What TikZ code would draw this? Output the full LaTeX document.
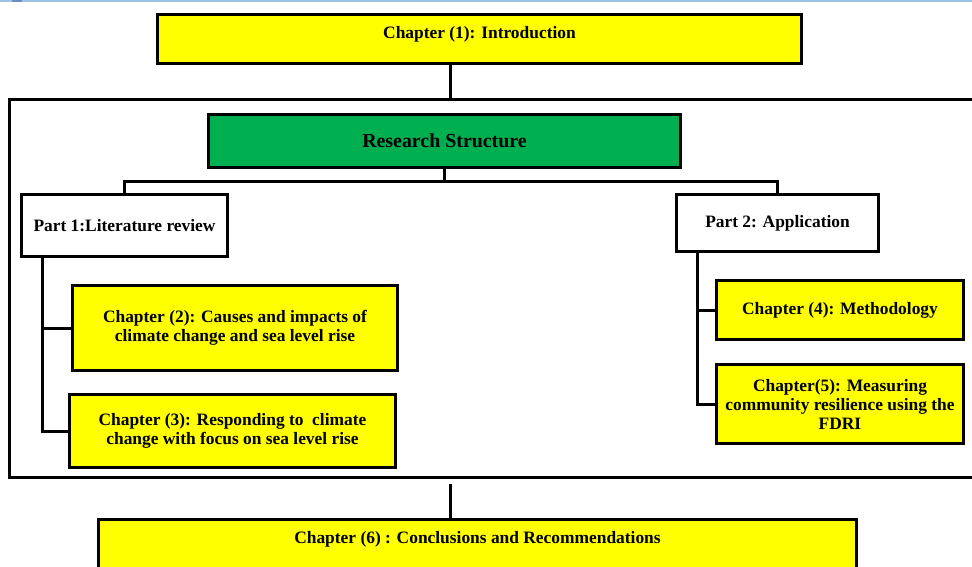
\documentclass[tikz,border=0pt]{standalone}
\usepackage{fontspec}
\setmainfont{Liberation Serif}
\definecolor{boxyellow}{RGB}{255,255,0}
\definecolor{boxgreen}{RGB}{0,176,80}
\definecolor{rulerblue}{RGB}{157,195,230}
\definecolor{rulerdark}{RGB}{110,140,190}
\begin{document}
\begin{tikzpicture}[x=1pt,y=-1pt,
  box/.style={draw=black, line width=3pt, rectangle, inner sep=0pt,
    font=\bfseries\fontsize{17.4}{19}\selectfont, align=center, text=black},
  ybox/.style={box, fill=boxyellow},
  link/.style={draw=black, line width=3pt}]
\useasboundingbox (0,0) rectangle (972,566);
\clip (0,0) rectangle (972,566);

% thin rule along the top edge
\draw[rulerblue, line width=2pt] (0,0.8) -- (972,0.8);
\draw[rulerdark, line width=2pt] (12,0.8) -- (22,0.8);

% outer frame around the research structure (open to the right)
\node[box, minimum width=989pt, minimum height=378pt] (frame) at (504,288.5) {};

% chapter boxes and headings
\node[ybox, minimum width=644pt, minimum height=49pt, text height=12pt, text depth=14pt]
  (ch1) at (479.5,39) {Chapter (1): Introduction};
\node[box, fill=boxgreen, minimum width=472pt, minimum height=53pt,
  font=\bfseries\fontsize{19.9}{22}\selectfont] (rs) at (444.5,141) {Research Structure};
\node[box, fill=white, minimum width=206pt, minimum height=62pt] (p1) at (124.5,225.5)
  {Part 1:Literature review};
\node[box, fill=white, minimum width=202pt, minimum height=57pt] (p2) at (777.5,223)
  {Part 2: Application};
\node[ybox, minimum width=325pt, minimum height=85pt] (ch2) at (235,328)
  {Chapter (2): Causes and impacts of\\climate change and sea level rise};
\node[ybox, minimum width=326pt, minimum height=73pt] (ch3) at (232.5,431)
  {Chapter (3): Responding to\ \ climate\\change with focus on sea level rise};
\node[ybox, minimum width=247pt, minimum height=59pt] (ch4) at (840,310)
  {Chapter (4): Methodology};
\node[ybox, minimum width=247pt, minimum height=79pt] (ch5) at (840,404)
  {Chapter(5): Measuring\\community resilience using the\\FDRI};
\node[ybox, minimum width=758pt, minimum height=79pt, text height=12pt, text depth=44pt]
  (ch6) at (477.5,559) {Chapter (6) : Conclusions and Recommendations};

% helper coordinates for the connector lines
\coordinate (s1) at (450,0);
\coordinate (by) at (0,181);
\coordinate (b1) at (450,484);
\coordinate (t1) at (42,0);
\coordinate (t2) at (697,0);
\coordinate (bj) at (rs.south |- by);

% connectors
\draw[link] (ch1.south -| s1) -- (frame.north -| s1);
\draw[link] (rs.south) -- (bj);
\draw[link] (p1.north) |- (bj) -| (p2.north);
\draw[link] (p1.south -| t1) |- (ch3.west);
\draw[link] (t1 |- ch2.west) -- (ch2.west);
\draw[link] (p2.south -| t2) |- (ch5.west);
\draw[link] (t2 |- ch4.west) -- (ch4.west);
\draw[link] (b1) -- (ch6.north -| b1);
\end{tikzpicture}
\end{document}
